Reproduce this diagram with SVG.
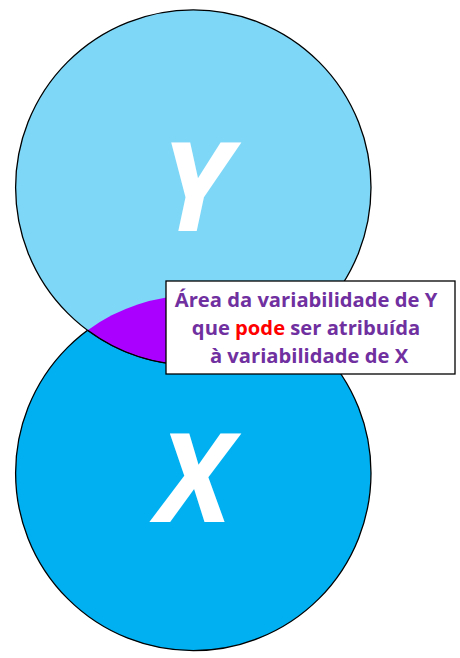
<svg xmlns="http://www.w3.org/2000/svg" width="460" height="658" viewBox="0 0 460 658">
<style>
.circ{stroke:#000;stroke-width:1.3}
.big{font-family:"Open Sans","DejaVu Sans",sans-serif;font-weight:bold;font-style:italic;font-size:124px;fill:#fff;text-anchor:middle}
.lbl{font-family:"Open Sans","DejaVu Sans",sans-serif;font-weight:bold;font-size:20.2px;fill:#7030a0;text-anchor:middle}
.red{fill:#ff0000}
</style>
<rect width="460" height="658" fill="#fff"/>
<g id="circleX">
<circle class="circ" cx="193.3" cy="473" r="177.7" fill="#00b0f0"/>
</g>
<g id="circleY">
<circle class="circ" cx="193.3" cy="187.5" r="177.7" fill="#7fd7f7"/>
</g>
<g id="overlap">
<path d="M87.7 330.25 A177.7 177.7 0 0 1 298.9 330.25 A177.7 177.7 0 0 1 87.7 330.25 Z" fill="#aa00ff"/>
<path d="M298.9 330.25 A177.7 177.7 0 0 1 87.7 330.25" fill="none" stroke="#000" stroke-width="1.3"/>
</g>
<g id="labelY"><text class="big" x="195" y="231">Y</text></g>
<g id="labelX"><text class="big" x="194" y="522">X</text></g>
<g id="callout">
<rect x="166" y="281" width="289" height="93" fill="#fff" stroke="#000" stroke-width="1.3"/>
<text class="lbl" x="306" y="307">Área da variabilidade de Y</text>
<text class="lbl" x="306" y="335">que <tspan class="red">pode</tspan> ser atribuída</text>
<text class="lbl" x="309" y="363">à variabilidade de X</text>
</g>
<g id="connectors"/>
</svg>
